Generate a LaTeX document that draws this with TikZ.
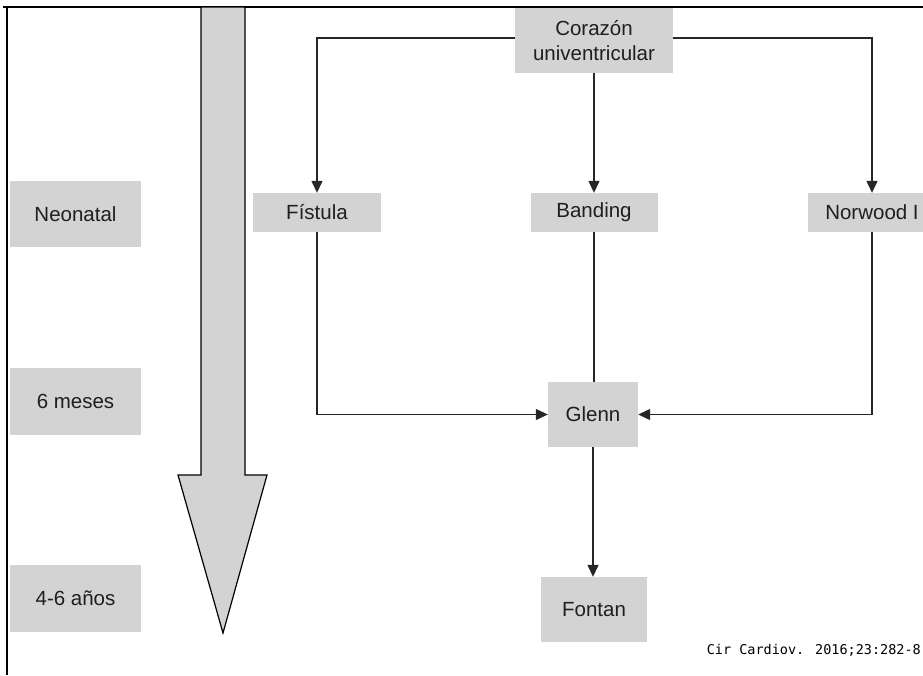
\documentclass[tikz,border=0pt]{standalone}
\usepackage{fontspec}
\setmainfont{Liberation Sans}
\newfontfamily\citefont{DejaVu Sans Mono}
\usetikzlibrary{arrows.meta}
\definecolor{boxgray}{HTML}{D3D3D3}
\begin{document}
\begin{tikzpicture}[x=1pt,y=-1pt,
  box/.style={fill=boxgray,inner sep=0pt,align=center,font=\fontsize{20.5}{25}\selectfont,text=black!88},
  conn/.style={line width=1.3pt,draw=black!85},
  arr/.style={conn,-{Triangle[length=12pt,width=11pt]}}]
\useasboundingbox (0,0) rectangle (923,675);
\clip (0,0) rectangle (923,675);
% frame
\draw[line width=2pt] (3,7) -- (923,7);
\draw[line width=2pt] (7,7) -- (7,675);
% big time arrow
\draw[fill=boxgray,line width=1.2pt,line join=miter] (201,7) -- (245,7) -- (245,475) -- (267,475) -- (223,633) -- (178,475) -- (201,475) -- cycle;
% time labels
\node[box,minimum width=131pt,minimum height=66pt] (neo) at (75.5,214) {Neonatal};
\node[box,minimum width=131pt,minimum height=67pt] (mes) at (75.5,401.5) {6 meses};
\node[box,minimum width=131pt,minimum height=67pt] (anos) at (75.5,598.5) {4-6 años};
% flow nodes
\node[box,minimum width=158pt,minimum height=65pt] (cor) at (594,40.5) {Corazón\\univentricular};
\node[box,minimum width=128pt,minimum height=39pt] (fis) at (317,212.5) {Fístula};
\node[box,minimum width=127pt,minimum height=39pt] (ban) at (594,212.5) {Banding};
\node[box,minimum width=128pt,minimum height=39pt] (nor) at (872,212.5) {Norwood I};
\node[box,minimum width=90pt,minimum height=65pt] (glenn) at (593,414.5) {Glenn};
\node[box,minimum width=106pt,minimum height=65pt] (fontan) at (594,609.5) {Fontan};
% connectors
\draw[arr] ([yshift=2.5pt]cor.west) -| (fis.north);
\draw[arr] ([yshift=2.5pt]cor.east) -| (nor.north);
\draw[arr] (cor.south) -- (ban.north);
\draw[conn] (ban.south) -- (ban.south |- glenn.north);
\draw[arr] (fis.south) |- (glenn.west);
\draw[arr] (nor.south) |- (glenn.east);
\draw[arr] (glenn.south) -- (glenn.south |- fontan.north);
% citation
\node[anchor=east,inner sep=0pt,font=\citefont\fontsize{13.5}{16}\selectfont] (cite) at (921,650) {Cir Cardiov. 2016;23:282-8};
\end{tikzpicture}
\end{document}
